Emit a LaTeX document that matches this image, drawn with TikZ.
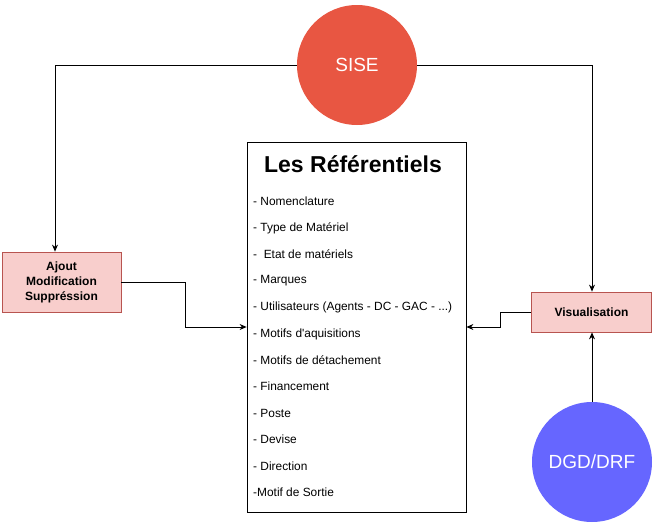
\documentclass[tikz,border=0pt]{standalone}
\usepackage{fontspec}
\setmainfont{Liberation Sans}
\usetikzlibrary{arrows.meta}
\definecolor{sisered}{HTML}{E85642}
\definecolor{dgdblue}{HTML}{6666FF}
\definecolor{pinkfill}{HTML}{F8CECC}
\definecolor{pinkline}{HTML}{B85450}
\tikzset{
  conn/.style={draw=black, line width=0.8pt, -{Stealth[length=7pt,width=6pt]}},
  pinkbox/.style={draw=pinkline, fill=pinkfill, line width=0.8pt, inner sep=0pt, align=center, font=\fontsize{12}{15}\selectfont\bfseries},
  bigcircle/.style={circle, minimum size=120pt, inner sep=0pt, text=white, font=\fontsize{19}{22}\selectfont},
  item/.style={anchor=west, inner sep=0pt, font=\fontsize{11.9}{14}\selectfont}
}
\begin{document}
\begin{tikzpicture}[x=1pt,y=-1pt]
\useasboundingbox (0,0) rectangle (654,525);
% main box
\node[draw=black, line width=0.8pt, minimum width=219pt, minimum height=370pt, inner sep=0pt] (main) at (356.5,327) {};
\node[inner sep=0pt, font=\fontsize{23}{26}\selectfont\bfseries] (title) at (353,164) {Les Référentiels};
\node[item] (i1) at (253,201.5) {- Nomenclature};
\node[item] (i2) at (253,228) {- Type de Matériel};
\node[item] (i3) at (253,254.5) {-\ \ Etat de matériels};
\node[item] (i4) at (253,281) {- Marques};
\node[item] (i5) at (253,307.5) {- Utilisateurs (Agents - DC - GAC - ...)};
\node[item] (i6) at (253,334) {- Motifs d\textquotesingle aquisitions};
\node[item] (i7) at (253,360) {- Motifs de détachement};
\node[item] (i8) at (253,386.5) {- Financement};
\node[item] (i9) at (253,413) {- Poste};
\node[item] (i10) at (253,439.5) {- Devise};
\node[item] (i11) at (253,466) {- Direction};
\node[item] (i12) at (253,492.5) {-Motif de Sortie};
% circles
\node[bigcircle, fill=sisered] (sise) at (357,65) {SISE};
\node[bigcircle, fill=dgdblue] (dgd) at (592,462) {DGD/DRF};
% pink boxes
\node[pinkbox, minimum width=119pt, minimum height=60pt] (ajout) at (61.5,282) {Ajout\\Modification\\Suppréssion};
\node[pinkbox, minimum width=120pt, minimum height=40pt] (visu) at (591.5,312) {Visualisation};
% connectors
\draw[conn] (sise.west) -- (55,65) -- (ajout.north -| 55,0);
\draw[conn] (sise.east) -- (592,65) -- (visu.north -| 592,0);
\draw[conn] (ajout.east) -- (185,282) -- (185,327) -- (main.west);
\draw[conn] (visu.west) -- (500,312) -- (500,327) -- (main.east);
\draw[conn] (dgd.north) -- (visu.south -| dgd.north);
\end{tikzpicture}
\end{document}
